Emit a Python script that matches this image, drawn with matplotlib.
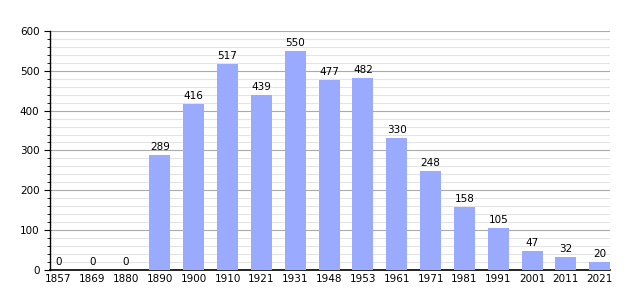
import matplotlib
matplotlib.use("Agg")
import matplotlib.pyplot as plt
from matplotlib.ticker import MultipleLocator

years = ["1857", "1869", "1880", "1890", "1900", "1910", "1921", "1931", "1948",
         "1953", "1961", "1971", "1981", "1991", "2001", "2011", "2021"]
population = [0, 0, 0, 289, 416, 517, 439, 550, 477, 482, 330, 248, 158, 105, 47, 32, 20]

fig = plt.figure(figsize=(6.4, 3.0), dpi=100)
ax = fig.add_axes([0.078, 0.1, 0.875, 0.797])

x = range(len(years))
ax.bar(x, population, width=0.62, color="#99aaff", zorder=3)
for xi, v in zip(x, population):
    ax.text(xi, v + 8, str(v), ha="center", va="bottom", fontsize=7.5, zorder=4)

ax.set_xlim(-0.25, len(years) - 0.7)
ax.set_ylim(0, 600)
ax.set_xticks(list(x))
ax.set_xticklabels(years)
ax.yaxis.set_major_locator(MultipleLocator(100))
ax.yaxis.set_minor_locator(MultipleLocator(20))
ax.grid(axis="y", which="major", color="#aaaaaa", linewidth=0.8, zorder=1)
ax.grid(axis="y", which="minor", color="#e4e4e4", linewidth=0.8, zorder=1)

for s in ["top", "right"]:
    ax.spines[s].set_visible(False)
ax.spines["left"].set_linewidth(1.0)
ax.spines["bottom"].set_linewidth(1.2)
ax.tick_params(axis="x", length=0, labelsize=7.5, pad=3)
ax.tick_params(axis="y", which="major", length=4, labelsize=7.5)
ax.tick_params(axis="y", which="minor", length=2)

fig.savefig("out.png", dpi=100)
